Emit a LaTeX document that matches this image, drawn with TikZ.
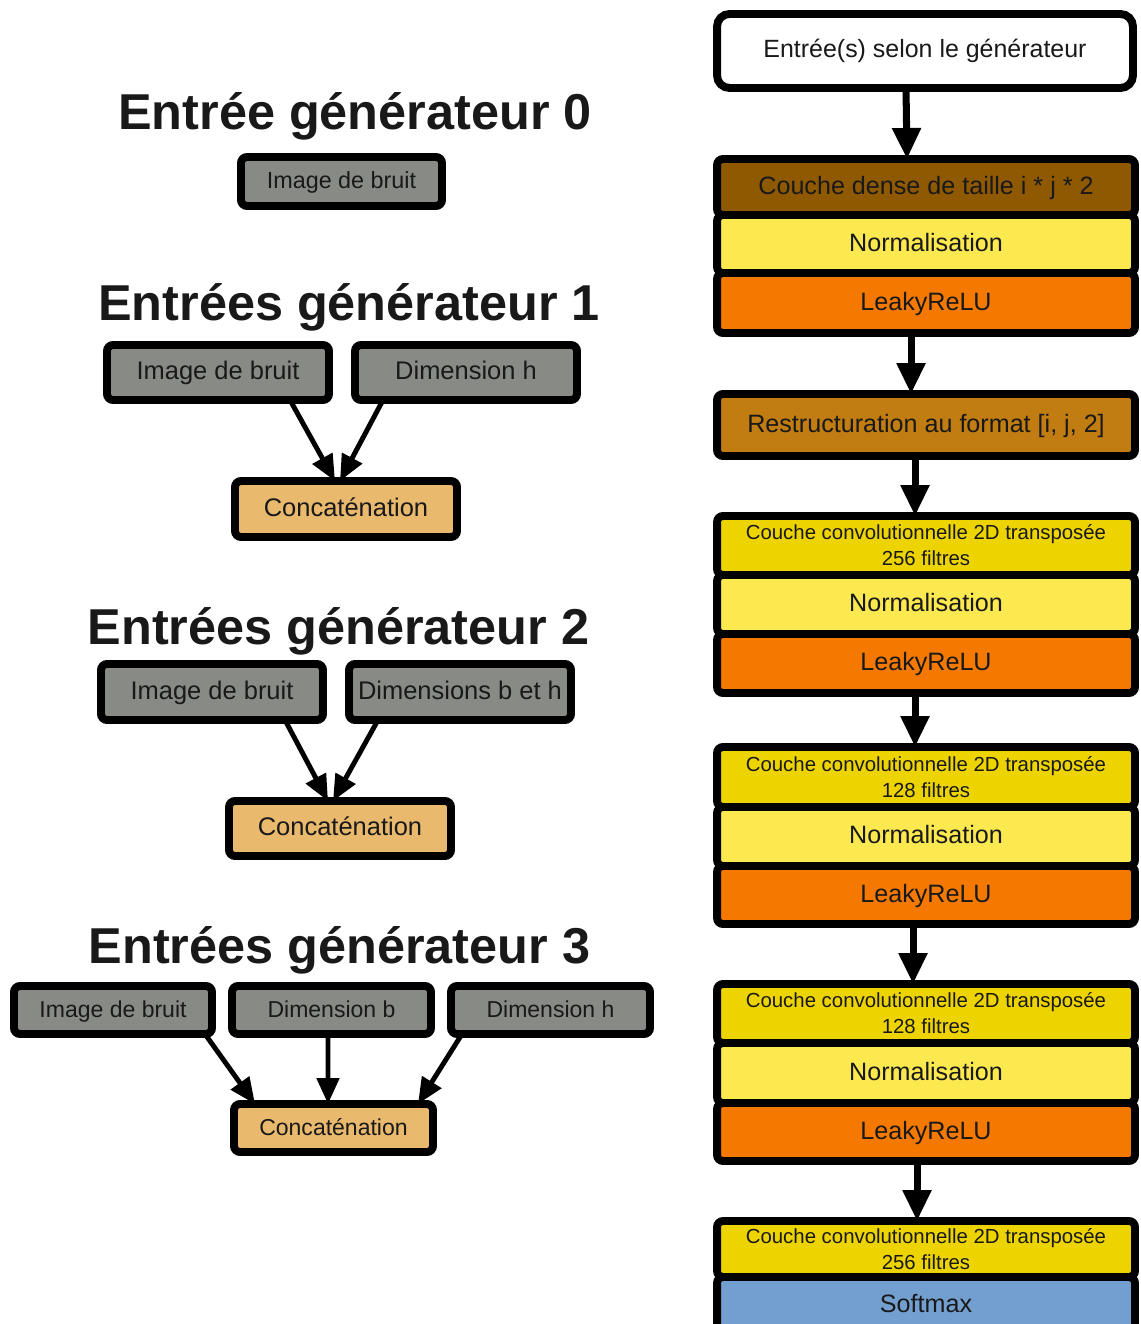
\documentclass[tikz,border=0pt]{standalone}
\usepackage{fontspec}
\setmainfont{Liberation Sans}
\usepackage{tikz}
\usetikzlibrary{arrows.meta}

\begin{document}
\begin{tikzpicture}[x=0.02cm,y=-0.02cm,
  every node/.style={draw=black, line width=4.5pt, rounded corners=0.12cm, inner sep=0pt, outer sep=0pt, text=black!90},
  titre/.style={draw=none, anchor=base, font=\fontsize{28.7}{34}\selectfont\bfseries},
  ligne/.style={text height=0.85em, text depth=0pt},
  donnee/.style={ligne, fill={rgb,255:red,136;green,138;blue,133}},
  concat/.style={ligne, fill={rgb,255:red,233;green,185;blue,110}},
  couche/.style={minimum width=8.36cm, font=\fontsize{14.3}{17}\selectfont},
  dense/.style={couche, ligne, fill={rgb,255:red,143;green,89;blue,2}},
  norme/.style={couche, ligne, fill={rgb,255:red,252;green,233;blue,79}},
  leaky/.style={couche, ligne, fill={rgb,255:red,245;green,121;blue,0}},
  restr/.style={couche, ligne, fill={rgb,255:red,193;green,125;blue,17}},
  conv/.style={couche, fill={rgb,255:red,237;green,212;blue,0}, align=center, font=\fontsize{11.6}{14.8}\selectfont},
  fleche/.style={line width=4pt, -{Triangle[width=0.55cm,length=0.62cm]}},
  petitefleche/.style={line width=2.8pt, -{Triangle[width=0.44cm,length=0.52cm]}}]
\useasboundingbox (0,0) rectangle (1141,1324);

\node[titre] (t0) at (355,130) {Entrée générateur 0};
\node[donnee, minimum width=4.02cm, minimum height=0.98cm, font=\fontsize{13.3}{16}\selectfont] (g0img) at (341.5,181.5) {Image de bruit};

\node[titre] (t1) at (349,320) {Entrées générateur 1};
\node[donnee, minimum width=4.44cm, minimum height=1.1cm, font=\fontsize{14.5}{17}\selectfont] (g1img) at (218,372.5) {Image de bruit};
\node[donnee, minimum width=4.44cm, minimum height=1.1cm, font=\fontsize{14.5}{17}\selectfont] (g1dim) at (466,372.5) {Dimension h};
\node[concat, minimum width=4.44cm, minimum height=1.12cm, font=\fontsize{14.5}{17}\selectfont] (g1cat) at (346,509) {Concaténation};
\draw[petitefleche] ([xshift=1.44cm]g1img.south) -- ([xshift=-0.22cm]g1cat.north);
\draw[petitefleche] ([xshift=-1.66cm]g1dim.south) -- ([xshift=-0.12cm]g1cat.north);

\node[titre] (t2) at (338.5,644) {Entrées générateur 2};
\node[donnee, minimum width=4.44cm, minimum height=1.12cm, font=\fontsize{14.5}{17}\selectfont] (g2img) at (212,692) {Image de bruit};
\node[donnee, minimum width=4.44cm, minimum height=1.12cm, font=\fontsize{14.5}{17}\selectfont] (g2dim) at (460,692) {Dimensions b et h};
\node[concat, minimum width=4.44cm, minimum height=1.1cm, font=\fontsize{14.5}{17}\selectfont] (g2cat) at (340,828.5) {Concaténation};
\draw[petitefleche] ([xshift=1.46cm]g2img.south) -- ([xshift=-0.24cm]g2cat.north);
\draw[petitefleche] ([xshift=-1.64cm]g2dim.south) -- ([xshift=-0.14cm]g2cat.north);

\node[titre] (t3) at (339.5,963) {Entrées générateur 3};
\node[donnee, minimum width=3.96cm, minimum height=0.96cm, font=\fontsize{13.1}{16}\selectfont] (g3img) at (113,1010) {Image de bruit};
\node[donnee, minimum width=3.98cm, minimum height=0.96cm, font=\fontsize{13.1}{16}\selectfont] (g3b) at (331.5,1010) {Dimension b};
\node[donnee, minimum width=3.98cm, minimum height=0.96cm, font=\fontsize{13.1}{16}\selectfont] (g3h) at (550.5,1010) {Dimension h};
\node[concat, minimum width=3.98cm, minimum height=0.96cm, font=\fontsize{13.1}{16}\selectfont] (g3cat) at (333.5,1128) {Concaténation};
\draw[petitefleche] ([xshift=1.84cm]g3img.south) -- ([xshift=-1.57cm]g3cat.north);
\draw[petitefleche] ([xshift=-0.07cm]g3b.south) -- ([xshift=-0.11cm]g3cat.north);
\draw[petitefleche] ([xshift=-1.77cm]g3h.south) -- ([xshift=1.69cm]g3cat.north);

\node[fill=white, rounded corners=0.25cm, minimum width=8.32cm, minimum height=1.48cm, font=\fontsize{14.2}{17}\selectfont] (in) at (925,51) {Entrée(s) selon le générateur};
\node[dense, minimum height=1.12cm] (dense) at (926,187) {Couche dense de taille i * j * 2};
\node[norme, minimum height=1.16cm] (norm1) at (926,244) {Normalisation};
\node[leaky, minimum height=1.2cm] (leaky1) at (926,303) {LeakyReLU};
\node[restr, minimum height=1.24cm] (restr) at (926,425) {Restructuration au format [i, j, 2]};
\node[conv, minimum height=1.18cm] (conv1) at (926,545.5) {Couche convolutionnelle 2D transposée\\256 filtres};
\node[norme, minimum height=1.18cm] (norm2) at (926,604.5) {Normalisation};
\node[leaky, minimum height=1.18cm] (leaky2) at (926,663.5) {LeakyReLU};
\node[conv, minimum height=1.2cm] (conv2) at (926,777) {Couche convolutionnelle 2D transposée\\128 filtres};
\node[norme, minimum height=1.18cm] (norm3) at (926,836.5) {Normalisation};
\node[leaky, minimum height=1.16cm] (leaky3) at (926,895) {LeakyReLU};
\node[conv, minimum height=1.18cm] (conv3) at (926,1013.5) {Couche convolutionnelle 2D transposée\\128 filtres};
\node[norme, minimum height=1.2cm] (norm4) at (926,1073) {Normalisation};
\node[leaky, minimum height=1.16cm] (leaky4) at (926,1132) {LeakyReLU};
\node[conv, minimum height=1.12cm] (conv4) at (926,1249) {Couche convolutionnelle 2D transposée\\256 filtres};
\node[couche, ligne, fill={rgb,255:red,114;green,159;blue,207}, minimum height=1.12cm] (soft) at (926,1305) {Softmax};

\draw[fleche] ([xshift=-0.38cm]in.south) -- ([xshift=-0.38cm]dense.north);
\draw[fleche] ([xshift=-0.30cm]leaky1.south) -- ([xshift=-0.30cm]restr.north);
\draw[fleche] ([xshift=-0.22cm]restr.south) -- ([xshift=-0.22cm]conv1.north);
\draw[fleche] ([xshift=-0.22cm]leaky2.south) -- ([xshift=-0.22cm]conv2.north);
\draw[fleche] ([xshift=-0.26cm]leaky3.south) -- ([xshift=-0.26cm]conv3.north);
\draw[fleche] ([xshift=-0.18cm]leaky4.south) -- ([xshift=-0.18cm]conv4.north);
\end{tikzpicture}
\end{document}
